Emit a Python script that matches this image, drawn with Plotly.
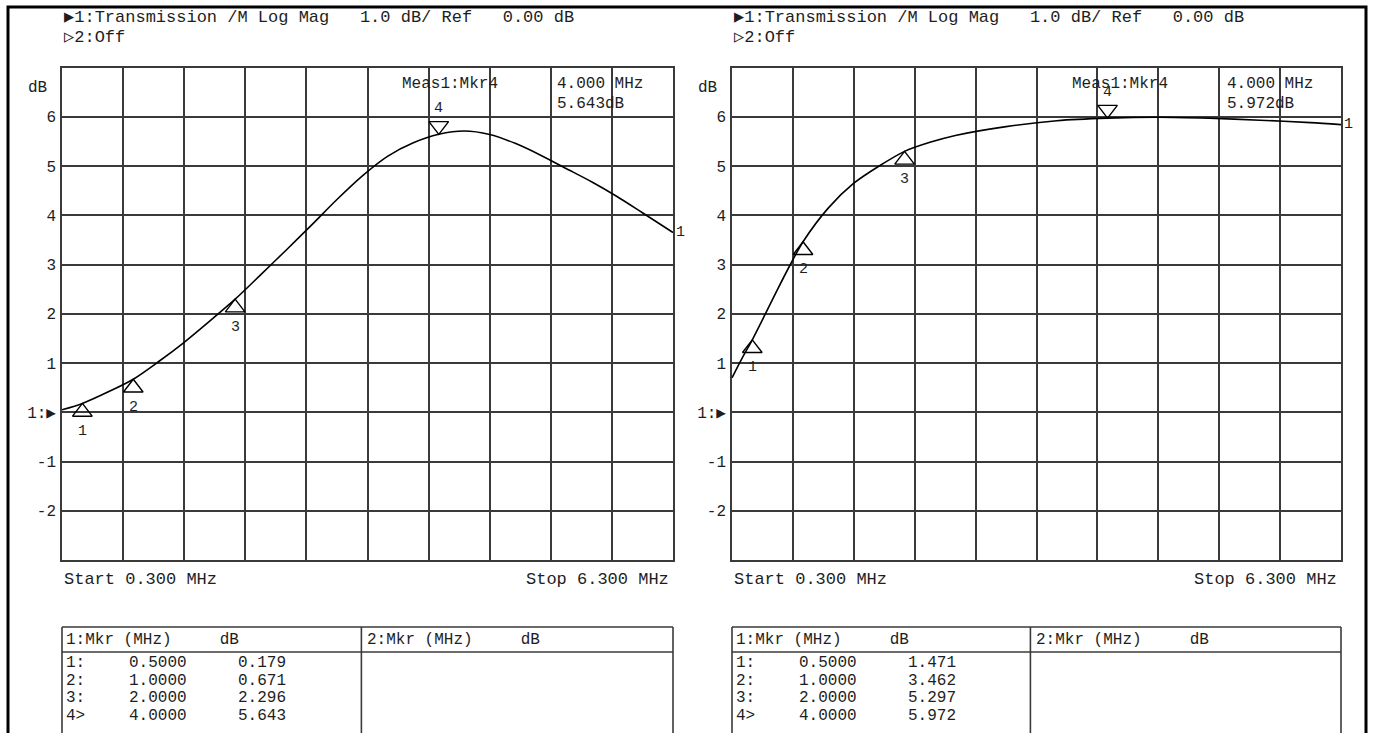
import plotly.graph_objects as go

W, H = 1373, 733

# ---------------- data ----------------
freq_left = [0.3, 0.5, 0.75, 1.0, 1.25, 1.5, 1.75, 2.0, 2.25, 2.5, 2.75, 3.0, 3.25, 3.5,
             3.75, 4.0, 4.25, 4.5, 4.75, 5.0, 5.25, 5.5, 5.75, 6.0, 6.3]
db_left = [0.05, 0.179, 0.41, 0.671, 1.03, 1.42, 1.85, 2.296, 2.79, 3.29, 3.8, 4.32, 4.8, 5.2,
           5.47, 5.643, 5.71, 5.64, 5.46, 5.22, 4.95, 4.68, 4.38, 4.05, 3.65]

freq_right = [0.3, 0.4, 0.5, 0.625, 0.75, 0.875, 1.0, 1.25, 1.5, 1.75, 2.0, 2.25, 2.5,
              3.0, 3.5, 4.0, 4.5, 5.0, 5.5, 6.0, 6.3]
db_right = [0.7, 1.1, 1.471, 1.98, 2.5, 3.0, 3.462, 4.15, 4.65, 5.0, 5.297, 5.48, 5.62,
            5.8, 5.92, 5.972, 5.99, 5.97, 5.93, 5.88, 5.84]

mkr_freq = [0.5, 1.0, 2.0, 4.0]
mkr_db_left = [0.179, 0.671, 2.296, 5.643]
mkr_db_right = [1.471, 3.462, 5.297, 5.972]
mkr_names = ["1", "2", "3", "4"]
row_prefix = ["1:", "2:", "3:", "4>"]

ytick_vals = list(range(-3, 8))
ytick_text = ["", "-2", "-1", "1:▶", "1", "2", "3", "4", "5", "6", ""]

header1 = "▶1:Transmission /M Log Mag   1.0 dB/ Ref   0.00 dB"
header2 = "▷2:Off"
start_label = "Start 0.300 MHz"
stop_label = "Stop 6.300 MHz"
meas_label = "Meas1:Mkr4"
meas_freq = "4.000 MHz"
meas_val_left = "5.643dB"
meas_val_right = "5.972dB"
table_header_1 = "1:Mkr (MHz)     dB"
table_header_2 = "2:Mkr (MHz)     dB"

X_RANGE = [0.3, 6.3]
Y_RANGE = [-3, 7]

# ---------------- layout geometry (pixels) ----------------
LEFT_X = (62, 673)
RIGHT_X = (732, 1341)
TOP_Y, BOT_Y = 67.5, 560
PX_PER_DB = (BOT_Y - TOP_Y) / (Y_RANGE[1] - Y_RANGE[0])

FONT = "Liberation Mono, DejaVu Sans Mono, monospace"
INK = "#1e1e1e"
GRID = "#3a3a3a"


def px(x):
    return x / W


def py(y):
    return 1 - y / H


fig = go.Figure()

panels = [
    ("x", "y", freq_left, db_left, mkr_db_left, meas_val_left, LEFT_X),
    ("x2", "y2", freq_right, db_right, mkr_db_right, meas_val_right, RIGHT_X),
]

annotations = []
shapes = []
MS = 17
R = MS / 2.0

for xa, ya, fx, fy, mdb, mval, (xl, xr) in panels:
    fig.add_trace(go.Scatter(x=fx, y=fy, xaxis=xa, yaxis=ya, mode="lines",
                             line=dict(color="black", width=1.6, shape="spline", smoothing=0.8),
                             hoverinfo="skip", showlegend=False))
    # markers 1-3 (up triangles below the trace), marker 4 (down triangle above)
    up_y = [v - R / PX_PER_DB for v in mdb[:3]]
    fig.add_trace(go.Scatter(x=mkr_freq[:3], y=up_y, xaxis=xa, yaxis=ya, mode="markers",
                             marker=dict(symbol="triangle-up-open", size=MS,
                                         line=dict(color="black", width=1.4), color="black"),
                             hoverinfo="skip", showlegend=False))
    dn_y = [v + R / PX_PER_DB for v in mdb[3:]]
    fig.add_trace(go.Scatter(x=mkr_freq[3:], y=dn_y, xaxis=xa, yaxis=ya, mode="markers",
                             marker=dict(symbol="triangle-down-open", size=MS,
                                         line=dict(color="black", width=1.4), color="black"),
                             hoverinfo="skip", showlegend=False))
    for i, (f, v) in enumerate(zip(mkr_freq, mdb)):
        if i < 3:
            yy = v - 28 / PX_PER_DB
        else:
            yy = v + 26 / PX_PER_DB
        annotations.append(dict(x=f, y=yy, xref=xa, yref=ya, text=mkr_names[i],
                                showarrow=False, font=dict(family=FONT, size=15, color=INK)))
    # trace label "1" at right end
    annotations.append(dict(x=fx[-1], y=fy[-1], xref=xa, yref=ya, text="1", xanchor="left",
                            xshift=1, showarrow=False, font=dict(family=FONT, size=15, color=INK)))

    dom = f"{xa} domain"
    width = xr - xl

    def dx(p):
        return (p - xl) / width

    def txt(x, y, s, anchor="left", size=17):
        annotations.append(dict(x=dx(x), y=py(y), xref=dom, yref="paper", text=s,
                                xanchor=anchor, yanchor="middle", showarrow=False,
                                font=dict(family=FONT, size=size, color=INK)))

    txt(xl, 18, header1)
    txt(xl, 37, header2)
    txt(xl - 36, 88, "dB", size=16)
    txt(xl + 338, 84, meas_label, size=16)
    txt(xl + 493, 84, meas_freq, size=16)
    txt(xl + 493, 104, mval, size=16)
    txt(xl, 579, start_label)
    txt(xr - 2, 579, stop_label, anchor="right")

    # marker table
    split = xl + 0.49 * width
    txt(xl + 2, 640, table_header_1, size=16)
    txt(split + 4, 640, table_header_2, size=16)
    row_y = [663, 681, 698, 716]
    for i in range(4):
        txt(xl + 2, row_y[i], row_prefix[i], size=16)
        txt(xl + 65, row_y[i], f"{mkr_freq[i]:.4f}", size=16)
        txt(xl + 174, row_y[i], f"{mdb[i]:.3f}", size=16)

    for (x0, y0, x1, y1) in [(xl, 627, xr, 627), (xl, 652, xr, 652),
                             (xl, 627, xl, 740), (xr, 627, xr, 740),
                             (split, 627, split, 740)]:
        shapes.append(dict(type="line", xref=dom, yref="paper",
                           x0=dx(x0), x1=dx(x1), y0=py(y0), y1=py(y1),
                           line=dict(color=GRID, width=1.6)))

# outer frame
shapes.append(dict(type="rect", xref="paper", yref="paper", x0=px(8), x1=px(1366),
                   y0=py(745), y1=py(7), line=dict(color="black", width=3)))

axis_common = dict(range=X_RANGE, tick0=0.3, dtick=0.6, showticklabels=False, ticks="",
                   showgrid=True, gridcolor=GRID, gridwidth=1.6, zeroline=False,
                   showline=True, mirror=True, linecolor=GRID, linewidth=1.6, fixedrange=True)
yaxis_common = dict(range=Y_RANGE, tickmode="array", tickvals=ytick_vals, ticktext=ytick_text,
                    ticks="", showgrid=True, gridcolor=GRID, gridwidth=1.6, zeroline=False,
                    showline=True, mirror=True, linecolor=GRID, linewidth=1.6,
                    tickfont=dict(family=FONT, size=16, color=INK), ticklabelstandoff=1,
                    fixedrange=True)

fig.update_layout(
    width=W, height=H, autosize=False,
    margin=dict(l=0, r=0, t=0, b=0, pad=0),
    paper_bgcolor="white", plot_bgcolor="white",
    xaxis=dict(domain=[px(LEFT_X[0]), px(LEFT_X[1])], anchor="y", **axis_common),
    yaxis=dict(domain=[py(BOT_Y), py(TOP_Y)], anchor="x", **yaxis_common),
    xaxis2=dict(domain=[px(RIGHT_X[0]), px(RIGHT_X[1])], anchor="y2", **axis_common),
    yaxis2=dict(domain=[py(BOT_Y), py(TOP_Y)], anchor="x2", **yaxis_common),
    annotations=annotations,
    shapes=shapes,
    showlegend=False,
)

fig.write_html("out.html", config={"displayModeBar": False},
               post_script="document.body.style.margin='0px';")
